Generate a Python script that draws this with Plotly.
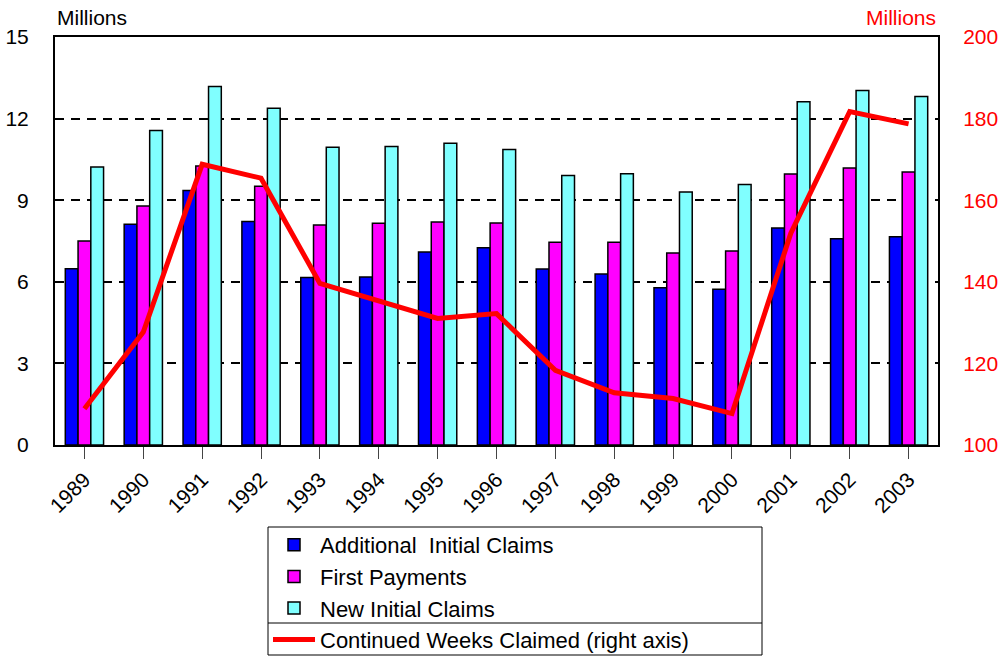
import plotly.graph_objects as go

years = ["1989", "1990", "1991", "1992", "1993", "1994", "1995", "1996",
         "1997", "1998", "1999", "2000", "2001", "2002", "2003"]
additional_initial = [6.48, 8.12, 9.36, 8.22, 6.16, 6.18, 7.10, 7.25,
                      6.47, 6.29, 5.78, 5.73, 7.98, 7.58, 7.66]
first_payments = [7.50, 8.79, 10.26, 9.51, 8.09, 8.15, 8.20, 8.16,
                  7.45, 7.45, 7.06, 7.13, 9.96, 10.18, 10.04]
new_initial = [10.22, 11.56, 13.18, 12.38, 10.95, 10.97, 11.09, 10.86,
               9.91, 9.97, 9.30, 9.58, 12.62, 13.03, 12.81]
continued_weeks = [108.9, 127.7, 168.8, 165.4, 139.6, 135.3, 131.0, 132.2,
                   118.3, 112.8, 111.4, 107.7, 151.9, 181.7, 178.7]

left_ticks = [0, 3, 6, 9, 12, 15]
right_ticks = [100, 120, 140, 160, 180, 200]

FONT = "Liberation Sans, Arial, sans-serif"
W, H = 998, 656
ML, MR, MT, MB = 55, 60, 37, 211
PW, PH = W - ML - MR, H - MT - MB


def px_x(x):
    return (x - ML) / PW


def px_y(y):
    return (H - MB - y) / PH


fig = go.Figure()
bar_line = dict(color="black", width=1.5)
fig.add_trace(go.Bar(x=years, y=additional_initial, name="Additional  Initial Claims",
                     marker=dict(color="#0000ff", line=bar_line), legendgroup="a"))
fig.add_trace(go.Bar(x=years, y=first_payments, name="First Payments",
                     marker=dict(color="#ff00ff", line=bar_line), legendgroup="b"))
fig.add_trace(go.Bar(x=years, y=new_initial, name="New Initial Claims",
                     marker=dict(color="#80ffff", line=bar_line), legendgroup="c"))
fig.add_trace(go.Scatter(x=years, y=continued_weeks, name="Continued Weeks Claimed (right axis)",
                         mode="lines", line=dict(color="#ff0000", width=5),
                         yaxis="y2", legendgroup="d"))

fig.update_layout(
    width=W, height=H,
    margin=dict(l=ML, r=MR, t=MT, b=MB, pad=0, autoexpand=False),
    paper_bgcolor="white", plot_bgcolor="white",
    font=dict(family=FONT, size=21, color="black"),
    barmode="group", bargap=0.35, bargroupgap=0,
    showlegend=True,
    legend=dict(
        x=px_x(268), y=px_y(524), xanchor="left", yanchor="top",
        bgcolor="rgba(0,0,0,0)", borderwidth=0,
        font=dict(family=FONT, size=22, color="black"),
        itemwidth=42, tracegroupgap=6, traceorder="normal",
    ),
    xaxis=dict(
        type="category", showline=True, linecolor="black", linewidth=2, mirror=True,
        ticks="outside", ticklen=12, tickcolor="#444", tickwidth=1,
        tickangle=-45, tickfont=dict(size=21), showgrid=False,
    ),
    yaxis=dict(
        range=[0, 15], tickvals=left_ticks, showline=True, linecolor="black", linewidth=2,
        showgrid=True, gridcolor="black", gridwidth=1.5, griddash="9px,7px",
        ticks="", ticklabelstandoff=20, tickfont=dict(size=21), zeroline=False,
    ),
    yaxis2=dict(
        range=[100, 200], tickvals=right_ticks, overlaying="y", side="right",
        showline=True, linecolor="black", linewidth=2, showgrid=False,
        ticks="", ticklabelstandoff=19, tickfont=dict(size=21, color="#ff0000"),
        zeroline=False,
    ),
    annotations=[
        dict(text="Millions", xref="paper", yref="paper", x=0, y=px_y(18),
             xanchor="left", yanchor="middle", showarrow=False,
             font=dict(size=21, color="black")),
        dict(text="Millions", xref="paper", yref="paper", x=px_x(938), y=px_y(18),
             xanchor="right", yanchor="middle", showarrow=False,
             font=dict(size=21, color="#ff0000")),
    ],
    shapes=[
        dict(type="rect", xref="paper", yref="paper",
             x0=px_x(268), x1=px_x(762), y0=px_y(527), y1=px_y(655),
             line=dict(color="black", width=1), fillcolor="rgba(0,0,0,0)"),
        dict(type="line", xref="paper", yref="paper",
             x0=px_x(268), x1=px_x(762), y0=px_y(623), y1=px_y(623),
             line=dict(color="black", width=1)),
    ],
)

fig.write_html("out.html", config={"displayModeBar": False},
               post_script="document.body.style.margin='0';")
